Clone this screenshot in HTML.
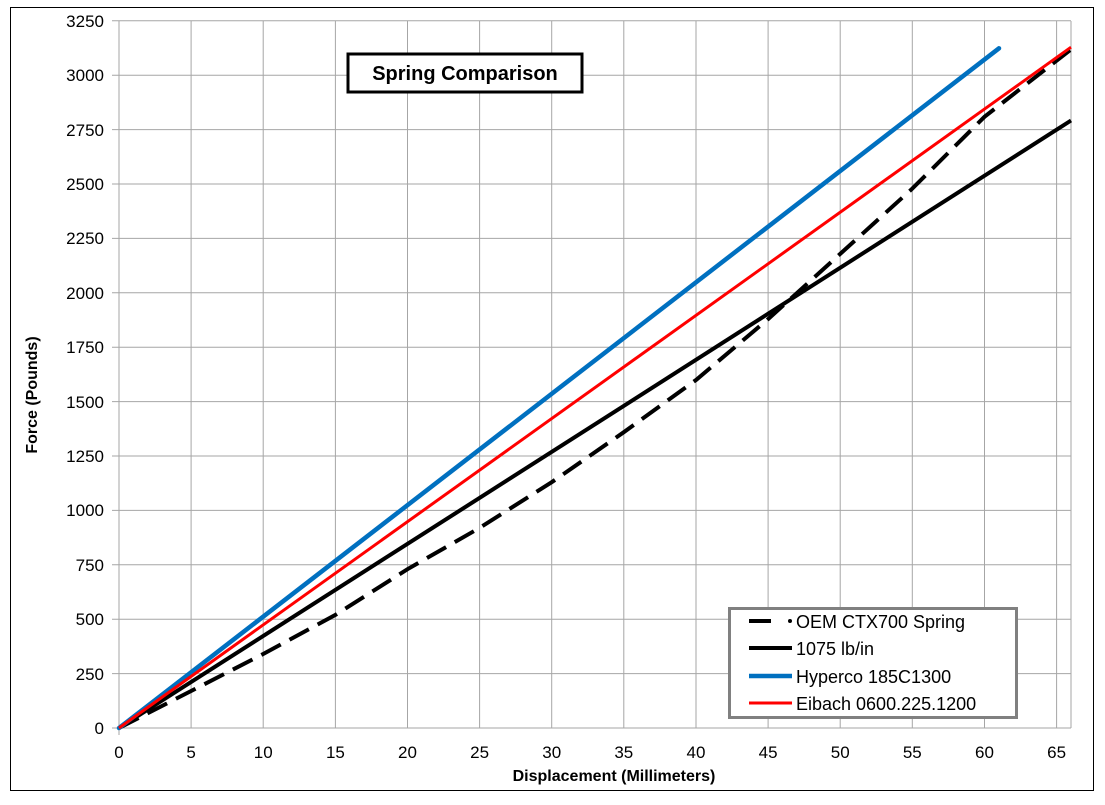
<!DOCTYPE html>
<html><head><meta charset="utf-8"><style>
body{margin:0;background:#fff}
text{font-family:"Liberation Sans",sans-serif}
</style></head><body>
<svg width="1105" height="800" xmlns="http://www.w3.org/2000/svg">
<rect x="10.5" y="7.5" width="1083" height="783" fill="#fff" stroke="#000" stroke-width="1"/>
<g stroke="#a6a6a6" stroke-width="1">
<line x1="191.1" y1="21" x2="191.1" y2="728"/><line x1="263.2" y1="21" x2="263.2" y2="728"/><line x1="335.4" y1="21" x2="335.4" y2="728"/><line x1="407.5" y1="21" x2="407.5" y2="728"/><line x1="479.6" y1="21" x2="479.6" y2="728"/><line x1="551.7" y1="21" x2="551.7" y2="728"/><line x1="623.8" y1="21" x2="623.8" y2="728"/><line x1="696" y1="21" x2="696" y2="728"/><line x1="768.1" y1="21" x2="768.1" y2="728"/><line x1="840.2" y1="21" x2="840.2" y2="728"/><line x1="912.3" y1="21" x2="912.3" y2="728"/><line x1="984.5" y1="21" x2="984.5" y2="728"/><line x1="1056.6" y1="21" x2="1056.6" y2="728"/><line x1="1071" y1="21" x2="1071" y2="728"/>
<line x1="112" y1="673.6" x2="1071" y2="673.6"/><line x1="112" y1="619.2" x2="1071" y2="619.2"/><line x1="112" y1="564.8" x2="1071" y2="564.8"/><line x1="112" y1="510.4" x2="1071" y2="510.4"/><line x1="112" y1="456" x2="1071" y2="456"/><line x1="112" y1="401.6" x2="1071" y2="401.6"/><line x1="112" y1="347.2" x2="1071" y2="347.2"/><line x1="112" y1="292.8" x2="1071" y2="292.8"/><line x1="112" y1="238.4" x2="1071" y2="238.4"/><line x1="112" y1="184" x2="1071" y2="184"/><line x1="112" y1="129.6" x2="1071" y2="129.6"/><line x1="112" y1="75.2" x2="1071" y2="75.2"/><line x1="112" y1="20.8" x2="1071" y2="20.8"/>
<line x1="119" y1="21" x2="119" y2="735"/><line x1="112" y1="728" x2="1071" y2="728"/>
</g>
<g font-size="17" text-anchor="end" fill="#000">
<text x="104" y="734">0</text><text x="104" y="680">250</text><text x="104" y="625">500</text><text x="104" y="571">750</text><text x="104" y="516">1000</text><text x="104" y="462">1250</text><text x="104" y="408">1500</text><text x="104" y="353">1750</text><text x="104" y="299">2000</text><text x="104" y="244">2250</text><text x="104" y="190">2500</text><text x="104" y="136">2750</text><text x="104" y="81">3000</text><text x="104" y="27">3250</text>
</g>
<g font-size="17" text-anchor="middle" fill="#000">
<text x="119" y="758">0</text><text x="191.1" y="758">5</text><text x="263.2" y="758">10</text><text x="335.4" y="758">15</text><text x="407.5" y="758">20</text><text x="479.6" y="758">25</text><text x="551.7" y="758">30</text><text x="623.8" y="758">35</text><text x="696" y="758">40</text><text x="768.1" y="758">45</text><text x="840.2" y="758">50</text><text x="912.3" y="758">55</text><text x="984.5" y="758">60</text><text x="1056.6" y="758">65</text>
</g>
<text x="614" y="781" font-size="16" font-weight="bold" text-anchor="middle">Displacement (Millimeters)</text>
<text transform="translate(37,395) rotate(-90)" font-size="16" font-weight="bold" text-anchor="middle">Force (Pounds)</text>
<polyline fill="none" stroke="#000" stroke-width="4" stroke-dasharray="22,10" points="119,728 191.1,691 263.2,654 335.4,614.9 407.5,569.2 479.6,527.9 551.7,482.2 623.8,432.2 696,380 768.1,319.1 840.2,253.9 912.3,188.6 984.5,116.8 1071,49.4"/>
<line x1="119" y1="728" x2="1071" y2="120.5" stroke="#000" stroke-width="4"/>
<line x1="119" y1="728" x2="999" y2="48.3" stroke="#0070c0" stroke-width="4.5" stroke-linecap="round"/>
<line x1="119" y1="728" x2="1071" y2="47.2" stroke="#ff0000" stroke-width="3"/>
<rect x="348" y="54" width="234" height="38" fill="#fff" stroke="#000" stroke-width="3"/>
<text x="465" y="80" font-size="20" font-weight="bold" text-anchor="middle">Spring Comparison</text>
<rect x="729.5" y="608.5" width="287" height="109" fill="#fff" stroke="#808080" stroke-width="3"/>
<line x1="749" y1="621" x2="771" y2="621" stroke="#000" stroke-width="4"/>
<circle cx="790" cy="621" r="2" fill="#000"/>
<line x1="749" y1="648" x2="792" y2="648" stroke="#000" stroke-width="4"/>
<line x1="749" y1="676" x2="792" y2="676" stroke="#0070c0" stroke-width="4.5"/>
<line x1="749" y1="703" x2="792" y2="703" stroke="#ff0000" stroke-width="3"/>
<g font-size="18" fill="#000">
<text x="796" y="628">OEM CTX700 Spring</text>
<text x="796" y="655">1075 lb/in</text>
<text x="796" y="683">Hyperco 185C1300</text>
<text x="796" y="710">Eibach 0600.225.1200</text>
</g>
</svg>
</body></html>
